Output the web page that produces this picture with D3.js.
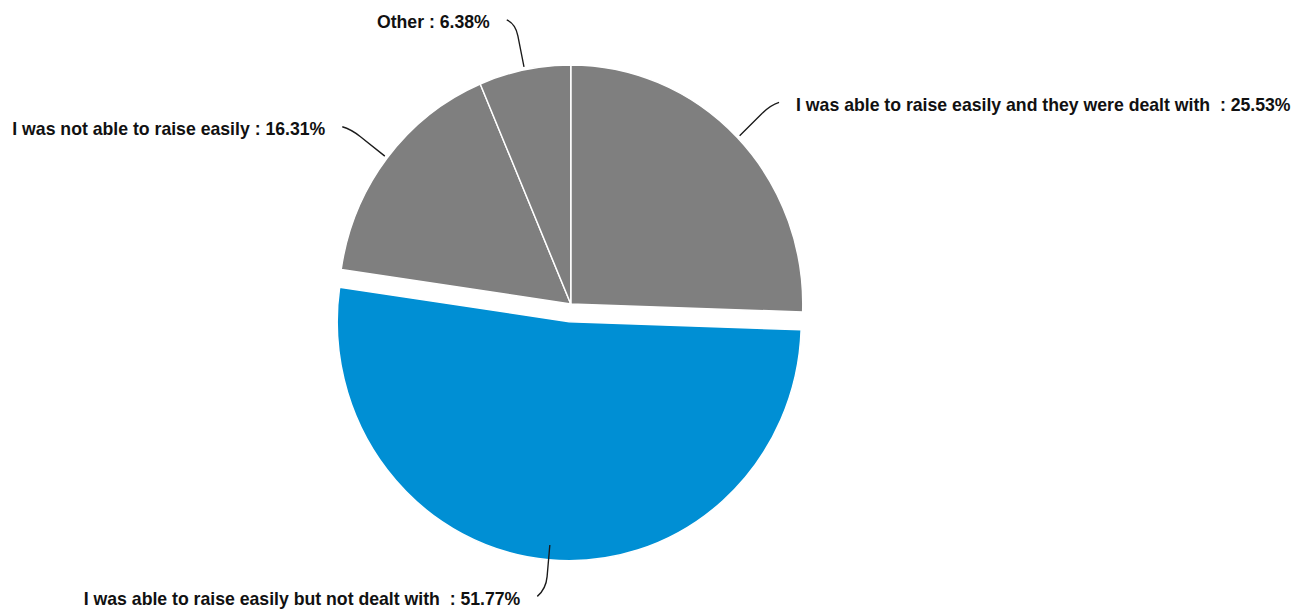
<!DOCTYPE html>
<html>
<head>
<meta charset="utf-8">
<script src="https://cdn.jsdelivr.net/npm/d3@7/dist/d3.min.js"></script>
<style>
  html, body { margin: 0; padding: 0; background: #fff; }
  svg { display: block; }
  .lbl { font-family: "Liberation Sans", Arial, sans-serif; font-weight: bold; font-size: 18.2px; fill: #111; white-space: pre; }
</style>
</head>
<body>
<svg id="chart" width="1311" height="610"></svg>
<script>
// Responses: how easily concerns could be raised and whether they were dealt with
const categories = [
  "I was able to raise easily and they were dealt with ",
  "I was able to raise easily but not dealt with ",
  "I was not able to raise easily",
  "Other"
];
const shares = [25.53, 51.77, 16.31, 6.38];
const highlighted = "I was able to raise easily but not dealt with ";

const W = 1311, H = 610;
const sx = 0.9707;            // slight horizontal squeeze of the whole figure
const cx = 588, cy = 304, R = 239;
const explode = 17.8;
const lineLen1 = 44, lineLen2 = 9, textGap = 17.5;

const data = categories.map((c, i) => ({ name: c, value: shares[i] }));

const svg = d3.select("#chart");
const root = svg.append("g").attr("transform", `scale(${sx},1)`);

const pie = d3.pie().value(d => d.value).sort(null).startAngle(0).endAngle(2 * Math.PI);
const arcs = pie(data);
const arc = d3.arc().innerRadius(0).outerRadius(R);

const color = d => d.data.name === highlighted ? "#008fd4" : "#7f7f7f";
const dirOf = d => {
  const a = (d.startAngle + d.endAngle) / 2;
  return [Math.sin(a), -Math.cos(a)];
};

root.append("g")
  .attr("transform", `translate(${cx},${cy})`)
  .selectAll("path")
  .data(arcs)
  .join("path")
  .attr("d", arc)
  .attr("transform", d => {
    if (d.data.name !== highlighted) return null;
    const [dx, dy] = dirOf(d);
    return `translate(${dx * explode},${dy * explode})`;
  })
  .attr("fill", color)
  .attr("stroke", "#fff")
  .attr("stroke-width", 1.5)
  .attr("stroke-linejoin", "round");

// leader lines and labels
const labels = root.append("g");
arcs.forEach(d => {
  const [dx, dy] = dirOf(d);
  const side = dx >= 0 ? 1 : -1;
  const r0 = R + 3;
  const S = [cx + dx * r0, cy + dy * r0];
  const E = [cx + dx * (r0 + lineLen1), cy + dy * (r0 + lineLen1)];
  // labels below the pie hang a little lower
  const T = [E[0] + side * lineLen2, E[1] + dy * 4 + (dy > 0 ? 3.5 : 0)];
  const A = [S[0] + (E[0] - S[0]) * 0.72, S[1] + (E[1] - S[1]) * 0.72];
  const p = d3.path();
  p.moveTo(S[0], S[1]);
  p.lineTo(A[0], A[1]);
  p.quadraticCurveTo(E[0], E[1], T[0], T[1]);
  labels.append("path")
    .attr("d", p.toString())
    .attr("fill", "none")
    .attr("stroke", "#1a1a1a")
    .attr("stroke-width", 1.4);
  labels.append("text")
    .attr("class", "lbl")
    .attr("x", T[0] + side * textGap)
    .attr("y", T[1] + 8.5)
    .attr("text-anchor", side > 0 ? "start" : "end")
    .text(`${d.data.name} : ${d.data.value.toFixed(2)}%`);
});
</script>
</body>
</html>
